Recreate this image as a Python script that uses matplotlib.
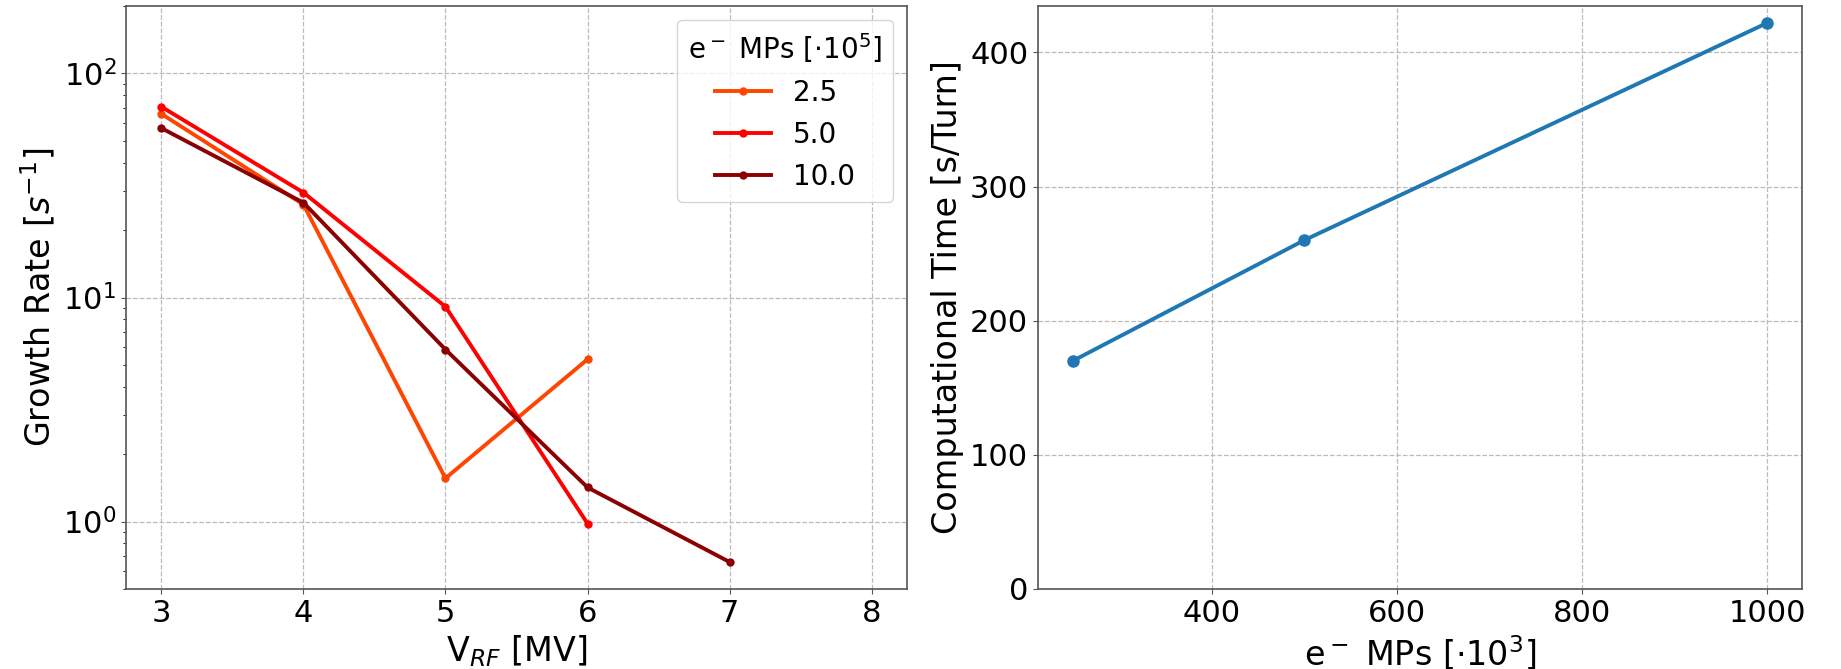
import matplotlib
matplotlib.use("Agg")
import matplotlib.pyplot as plt
from matplotlib.ticker import MultipleLocator

# ---- data ----
vrf_25 = [3, 4, 5, 6]
rate_25 = [66, 26, 1.56, 5.3]
vrf_50 = [3, 4, 5, 6]
rate_50 = [71, 29.4, 9.1, 0.98]
vrf_100 = [3, 4, 5, 6, 7]
rate_100 = [57, 26.5, 5.86, 1.42, 0.66]
series_labels = ["2.5", "5.0", "10.0"]
series_colors = ["orangered", "red", "darkred"]

mps = [250, 500, 1000]
comp_time = [170, 260, 422]

x_ticks_left = [3, 4, 5, 6, 7, 8]

plt.rcParams['font.family'] = ['DejaVu Sans']

fig = plt.figure(figsize=(18.41, 6.69), dpi=100)
ax1 = fig.add_axes([0.0684, 0.1196, 0.4243, 0.8714])
ax2 = fig.add_axes([0.5638, 0.1196, 0.4150, 0.8714])

for ax in (ax1, ax2):
    for s in ax.spines.values():
        s.set_color('#555555')
        s.set_linewidth(1.2)
    ax.grid(True, linestyle='--', color='#bbbbbb', linewidth=0.9)
    ax.set_axisbelow(True)
    ax.tick_params(labelsize=22, colors='#555555', labelcolor='black')

for xs, ys, lab, col in zip([vrf_25, vrf_50, vrf_100],
                            [rate_25, rate_50, rate_100],
                            series_labels, series_colors):
    ax1.plot(xs, ys, '-o', color=col, lw=2.8, ms=5, label=lab)

ax1.set_yscale('log')
ax1.set_ylim(0.5, 200)
ax1.set_xlim(2.75, 8.25)
ax1.set_xticks(x_ticks_left)
ax1.set_xlabel(r'V$_{RF}$ [MV]', fontsize=24)
ax1.set_ylabel(r'Growth Rate [$s^{-1}$]', fontsize=24)
leg = ax1.legend(title=r'e$^-$ MPs [$\cdot10^5$]', fontsize=20, title_fontsize=20,
                 loc='upper right', framealpha=0.8)

ax2.plot(mps, comp_time, '-o', color='#1f77b4', lw=2.8, ms=8)
ax2.set_ylim(bottom=0)
ax2.yaxis.set_major_locator(MultipleLocator(100))
ax2.set_xlabel(r'e$^-$ MPs [$\cdot10^3$]', fontsize=24)
ax2.set_ylabel('Computational Time [s/Turn]', fontsize=24)

fig.savefig('out.png', dpi=100)
